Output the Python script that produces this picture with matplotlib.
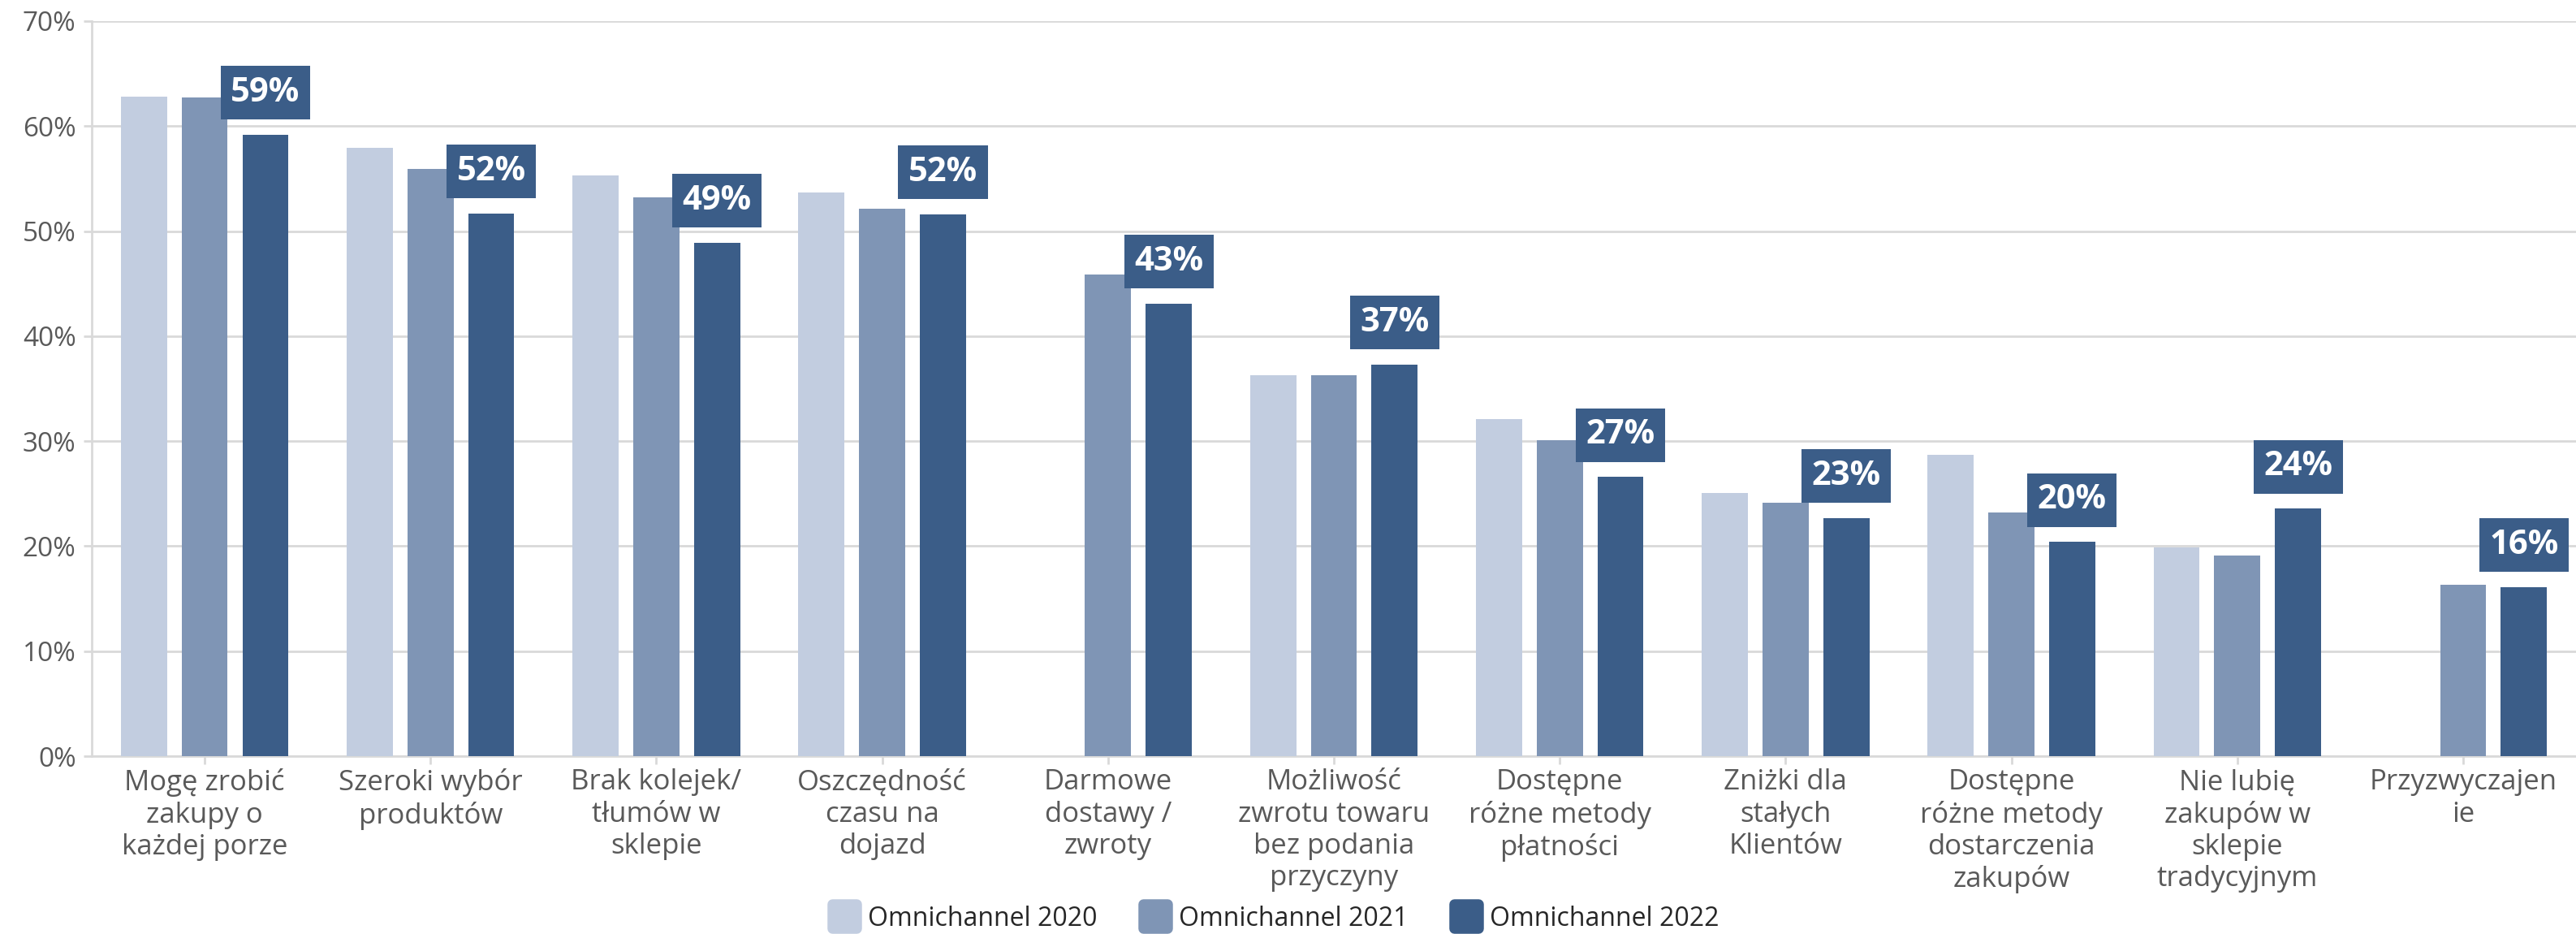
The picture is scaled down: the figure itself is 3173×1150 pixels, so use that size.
import numpy as np
import matplotlib.pyplot as plt
from matplotlib.lines import Line2D
from matplotlib.markers import MarkerStyle

plt.rcParams['font.family'] = ['Open Sans', 'DejaVu Sans']

categories = [
    'Mogę zrobić\nzakupy o\nkażdej porze',
    'Szeroki wybór\nproduktów',
    'Brak kolejek/\ntłumów w\nsklepie',
    'Oszczędność\nczasu na\ndojazd',
    'Darmowe\ndostawy /\nzwroty',
    'Możliwość\nzwrotu towaru\nbez podania\nprzyczyny',
    'Dostępne\nróżne metody\npłatności',
    'Zniżki dla\nstałych\nKlientów',
    'Dostępne\nróżne metody\ndostarczenia\nzakupów',
    'Nie lubię\nzakupów w\nsklepie\ntradycyjnym',
    'Przyzwyczajen\nie',
]
series_names = ['Omnichannel 2020', 'Omnichannel 2021', 'Omnichannel 2022']
omni_2020 = [62.8, 57.9, 55.3, 53.7, np.nan, 36.3, 32.1, 25.1, 28.7, 19.9, np.nan]
omni_2021 = [62.7, 55.9, 53.2, 52.1, 45.9, 36.3, 30.1, 24.1, 23.2, 19.1, 16.3]
omni_2022 = [59.2, 51.7, 48.9, 51.6, 43.1, 37.3, 26.6, 22.7, 20.4, 23.6, 16.1]

colors = ['#c2cde0', '#7f95b5', '#3b5d88']
grid_col = '#d9d9d9'
text_col = '#595959'

fig = plt.figure(figsize=(31.73, 11.5), dpi=100)
ax = fig.add_axes([0.0356, 0.1904, 0.9644, 0.787])

x = np.arange(len(categories))
width = 0.204
step = 0.269
for k, vals in enumerate([omni_2020, omni_2021, omni_2022]):
    ax.bar(x + (k - 1) * step, vals, width, color=colors[k], zorder=3)

# value boxes above the 2022 bars
for xi, v in zip(x, omni_2022):
    ax.annotate(f'{v:.0f}%', (xi + step, v), xytext=(0, 37), textcoords='offset points',
                ha='center', va='center', fontsize=30, fontweight='bold', color='white',
                bbox=dict(boxstyle='square,pad=0.3', facecolor=colors[2], edgecolor='none'),
                zorder=5)

ax.set_xlim(-0.5, len(categories) - 0.5)
ax.set_ylim(0, 70)
ax.set_yticks(np.arange(0, 71, 10))
ax.set_yticklabels([f'{t}%' for t in range(0, 71, 10)])
ax.set_xticks(x)
ax.set_xticklabels(categories, linespacing=1.2)

ax.grid(axis='y', color=grid_col, linewidth=2, zorder=0)
for s in ['top', 'right']:
    ax.spines[s].set_visible(False)
for s in ['left', 'bottom']:
    ax.spines[s].set_color(grid_col)
    ax.spines[s].set_linewidth(2)
ax.tick_params(axis='y', colors=grid_col, labelcolor=text_col, labelsize=24, length=7, width=2, pad=7)
ax.tick_params(axis='x', colors=grid_col, labelcolor=text_col, labelsize=25, length=7, width=2, pad=4)

mk = MarkerStyle('s', joinstyle='round')
handles = [Line2D([], [], linestyle='none', marker=mk, markersize=21, markeredgewidth=9,
                  color=c, markerfacecolor=c, markeredgecolor=c) for c in colors]
fig.legend(handles, series_names, loc='center', bbox_to_anchor=(0.4945, 0.0165), ncol=3,
           frameon=False, fontsize=23, labelcolor='#262626', handletextpad=0.3,
           columnspacing=1.65, handlelength=1.2, borderpad=0)

fig.savefig('out.png', dpi=100)
